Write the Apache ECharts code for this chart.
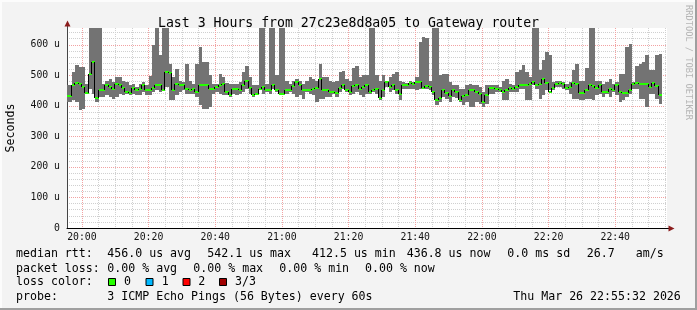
<!DOCTYPE html>
<html><head><meta charset="utf-8">
<script src="https://cdn.jsdelivr.net/npm/echarts@6/dist/echarts.min.js"></script>
<style>html,body{margin:0;padding:0;background:#f3f3f3}#c{width:697px;height:310px}</style>
</head><body><div id="c"></div><script>
// minutes relative to 20:00; each sample covers [m, m+1)
const firstSampleMinute = -5;
const xTickLabels = ['20:00','20:20','20:40','21:00','21:20','21:40','22:00','22:20','22:40'];
const yTickLabels = ['0','100 u','200 u','300 u','400 u','500 u','600 u'];

const medianRtt = [
  432,432,469,475,471,
  462,442,505,542.1,426,451,451,467,462,456,
  473,469,458,445,443,458,451,456,469,451,
  453,458,467,467,453,511,508,451,473,467,
  469,456,451,456,445,467,467,469,456,456,
  462,467,470,447,434,456,456,451,467,483,
  458,437,440,456,462,451,453,467,451,440,
  438,451,451,464,478,467,451,451,451,456,
  458,487,451,451,447,445,443,458,469,451,
  445,465,467,456,462,467,445,451,456,426,
  451,478,462,467,451,440,467,467,475,473,
  478,478,458,465,462,445,418,426,451,443,
  432,451,445,418,432,437,451,451,447,440,
  412.5,437,458,458,456,451,445,451,458,456,
  462,467,467,469,473,478,469,473,489,476,
  445,458,473,475,471,458,462,475,473,443,
  442,453,469,464,458,467,445,447,456,451,
  467,445,443,443,451,473,475,473,473,473,
  462,475,464,436.8
];
const smokeLow = [
  413,413,418,413,385,
  389,440,456,440,413,429,429,434,429,424,
  429,440,434,440,434,440,437,434,445,434,
  434,445,451,445,451,462,418,418,434,445,
  451,440,440,440,429,402,389,391,396,440,
  445,440,434,434,429,440,434,440,445,456,
  440,429,434,451,440,445,440,456,445,437,
  434,440,445,440,429,434,424,445,440,434,
  413,424,424,429,429,440,429,445,456,445,
  434,440,445,434,429,440,440,445,440,418,
  429,462,445,451,440,418,456,456,456,456,
  451,456,456,456,451,434,402,413,429,424,
  413,429,426,413,402,413,396,396,413,407,
  396,407,440,440,445,445,418,418,445,445,
  445,456,456,418,418,467,456,424,434,451,
  451,451,462,462,456,451,440,424,424,418,
  418,424,424,418,434,440,429,440,429,445,
  434,413,418,429,440,456,456,424,424,396,
  440,440,424,407
];
const smokeHigh = [
  467,467,511,535,527,
  527,473,700,760,720,690,473,483,489,478,
  494,494,483,478,467,473,462,473,478,467,
  498,598,700,565,820,740,538,494,522,483,
  478,538,483,473,538,592,543,543,500,473,
  473,505,494,476,473,473,473,478,511,532,
  494,467,467,780,720,473,800,690,500,760,
  700,483,473,483,489,483,473,483,494,489,
  483,538,494,494,483,478,483,511,513,489,
  483,524,532,494,502,500,740,700,500,483,
  502,483,494,505,511,483,478,476,480,478,
  494,609,625,622,480,720,800,500,505,505,
  478,467,467,456,456,467,473,467,467,462,
  445,467,467,467,467,462,483,489,473,467,
  511,516,535,511,494,760,700,516,549,576,
  565,478,480,483,478,473,478,516,538,483,
  483,524,740,690,480,480,473,478,489,473,
  478,505,505,592,603,478,532,538,543,565,
  516,516,565,571
];

const sampleMinutes = medianRtt.map((_, i) => firstSampleMinute + i);
const smokeData = sampleMinutes.map((m, i) => [m, smokeLow[i], smokeHigh[i]]);
const medianData = sampleMinutes.map((m, i) => [m, medianRtt[i]]);

const MONO = '"DejaVu Sans Mono", monospace';
const legendFont = '11.6px ' + MONO;

function renderSmoke(params, api) {
  const m = api.value(0);
  const p0 = api.coord([m, api.value(2)]);
  const p1 = api.coord([m + 1, api.value(1)]);
  const x0 = Math.round(p0[0]), x1 = Math.round(p1[0]);
  return {type: 'rect', shape: {x: x0, y: Math.round(p0[1]), width: x1 - x0, height: Math.round(p1[1]) - Math.round(p0[1])},
          style: {fill: '#737373'}};
}
function renderMedian(params, api) {
  const i = params.dataIndex;
  const m = api.value(0), med = api.value(1);
  const a = api.coord([m, med]), b = api.coord([m + 1, med]);
  const xa = Math.round(a[0]), xb = Math.round(b[0]), y = Math.round(a[1]);
  const children = [];
  if (i > 0) {
    const prev = Math.round(api.coord([m, medianRtt[i - 1]])[1]);
    children.push({type: 'line', shape: {x1: xa - 0.5, y1: prev, x2: xa - 0.5, y2: y}, style: {stroke: '#000', lineWidth: 1}});
  }
  children.push({type: 'line', shape: {x1: xa, y1: y, x2: xb, y2: y}, style: {stroke: '#26ff00', lineWidth: 2}});
  return {type: 'group', children};
}

function txt(x, y, s) {
  return {type: 'text', x: x, y: y, style: {text: s, font: legendFont, fill: '#000', verticalAlign: 'middle'}};
}
function box(x, y, color) {
  return {type: 'rect', shape: {x: x, y: y, width: 7, height: 7}, style: {fill: color, stroke: '#000', lineWidth: 1}};
}

const chart = echarts.init(document.getElementById('c'), null, {renderer: 'canvas'});
chart.setOption({
  backgroundColor: '#f3f3f3',
  animation: false,
  title: {text: 'Last 3 Hours from 27c23e8d8a05 to Gateway router', left: 'center', top: 12,
          textStyle: {fontFamily: MONO, fontSize: 13.2, fontWeight: 'normal', color: '#000', lineHeight: 14}},
  grid: {left: 67, top: 28, width: 600, height: 200, show: true, backgroundColor: '#fff', borderWidth: 0},
  xAxis: {
    type: 'value', min: -4.467, max: 175.533, splitNumber: 9,
    axisLine: {show: true, onZero: false, lineStyle: {color: '#000', width: 1}},
    axisTick: {show: false},
    axisLabel: {showMinLabel: false, showMaxLabel: false, margin: 4, fontFamily: MONO, fontSize: 9.8, color: '#111', lineHeight: 10,
                formatter: v => xTickLabels[Math.round(v / 20)] || ''},
    splitLine: {show: true, showMinLine: false, showMaxLine: false, lineStyle: {color: '#f2a2a2', type: [1, 1], width: 1}},
    minorTick: {show: true, splitNumber: 4, length: 0},
    minorSplitLine: {show: true, lineStyle: {color: '#d0d0d0', type: [1, 1], width: 1}}
  },
  yAxis: {
    type: 'value', min: 0, max: 655, interval: 100,
    axisLine: {show: true, onZero: false, lineStyle: {color: '#444', width: 1}},
    axisTick: {show: false},
    axisLabel: {showMaxLabel: false, margin: 7, fontFamily: MONO, fontSize: 9.8, color: '#111',
                formatter: v => yTickLabels[Math.round(v / 100)] || ''},
    splitLine: {show: true, showMaxLine: false, lineStyle: {color: '#f2a2a2', type: [1, 1], width: 1}},
    minorTick: {show: true, splitNumber: 5, length: 0},
    minorSplitLine: {show: true, lineStyle: {color: '#d0d0d0', type: [1, 1], width: 1}}
  },
  series: [
    {type: 'custom', name: 'smoke', data: smokeData, renderItem: renderSmoke, clip: true, encode: {x: 0, y: [1, 2]}, z: 2},
    {type: 'custom', name: 'median rtt', data: medianData, renderItem: renderMedian, clip: true, encode: {x: 0, y: 1}, z: 3}
  ],
  graphic: [
    // frame
    {type: 'rect', shape: {x: 0, y: 0, width: 697, height: 2}, style: {fill: '#fcfcfc'}, silent: true},
    {type: 'rect', shape: {x: 0, y: 0, width: 2, height: 310}, style: {fill: '#fcfcfc'}, silent: true},
    {type: 'rect', shape: {x: 0, y: 308, width: 697, height: 2}, style: {fill: '#9f9f9f'}, silent: true},
    {type: 'rect', shape: {x: 695, y: 0, width: 2, height: 310}, style: {fill: '#9f9f9f'}, silent: true},
    // axis arrows
    {type: 'line', shape: {x1: 67.5, y1: 28, x2: 67.5, y2: 25}, style: {stroke: '#444', lineWidth: 1}},
    {type: 'polygon', shape: {points: [[64.5, 26.5], [70.5, 26.5], [67.5, 20.5]]}, style: {fill: '#8b1c1c'}},
    {type: 'line', shape: {x1: 667, y1: 228.5, x2: 669, y2: 228.5}, style: {stroke: '#000', lineWidth: 1}},
    {type: 'polygon', shape: {points: [[668.5, 225.5], [668.5, 231.5], [674.5, 228.5]]}, style: {fill: '#8b1c1c'}},
    // y title
    {type: 'text', x: 10.5, y: 128, rotation: Math.PI / 2,
     style: {text: 'Seconds', font: legendFont, fill: '#000', align: 'center', verticalAlign: 'middle'}},
    // rrdtool credit
    {type: 'text', x: 688, y: 5, rotation: -Math.PI / 2,
     style: {text: 'RRDTOOL / TOBI OETIKER', font: '8.7px ' + MONO, fill: '#b5b5b5', align: 'left', verticalAlign: 'middle'}},
    // legend line 1
    txt(16, 254.3, 'median rtt:'), txt(107.3, 254.3, '456.0 us avg'), txt(207.3, 254.3, '542.1 us max'),
    txt(312, 254.3, '412.5 us min'), txt(406.7, 254.3, '436.8 us now'), txt(507.3, 254.3, '0.0 ms sd'),
    txt(586.7, 254.3, '26.7'), txt(635.7, 254.3, 'am/s'),
    // legend line 2
    txt(16, 268.6, 'packet loss:'), txt(107.3, 268.6, '0.00 % avg'), txt(193.3, 268.6, '0.00 % max'),
    txt(279.3, 268.6, '0.00 % min'), txt(365, 268.6, '0.00 % now'),
    // legend line 3
    txt(16, 282.3, 'loss color:'),
    box(108.5, 278.5, '#26ff00'), txt(124, 282.3, '0'),
    box(146, 278.5, '#00b8ff'), txt(161.7, 282.3, '1'),
    box(183, 278.5, '#ff0000'), txt(198.3, 282.3, '2'),
    box(219.5, 278.5, '#a00000'), txt(235, 282.3, '3/3'),
    // legend line 4
    txt(16, 296.7, 'probe:'), txt(107.3, 296.7, '3 ICMP Echo Pings (56 Bytes) every 60s'),
    txt(513.3, 296.7, 'Thu Mar 26 22:55:32 2026')
  ]
});
</script></body></html>
